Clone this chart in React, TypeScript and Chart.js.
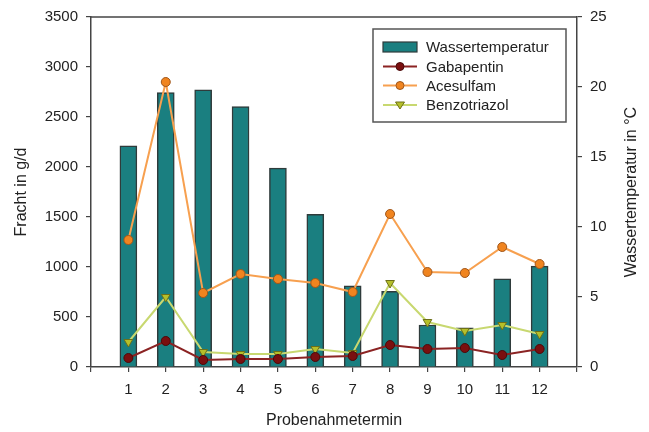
import React, { useEffect, useRef } from "react";
import { Chart, registerables } from "chart.js";

Chart.register(...registerables);

const termine = [1, 2, 3, 4, 5, 6, 7, 8, 9, 10, 11, 12];
const wassertemperatur = [15.8, 19.6, 19.8, 18.6, 14.2, 10.9, 5.8, 5.4, 3.0, 2.8, 6.3, 7.2];
const gabapentin = [90, 260, 70, 80, 80, 100, 110, 220, 180, 190, 120, 180];
const acesulfam = [1270, 2850, 740, 930, 880, 840, 750, 1530, 950, 940, 1200, 1030];
const benzotriazol = [250, 700, 150, 130, 130, 180, 140, 840, 450, 360, 420, 330];

const FONT = "'Liberation Sans', Arial, Helvetica, sans-serif";
const TEXT = "#222";
const AXIS = "#444";

const BAR_FILL = "#1a7f80";
const BAR_BORDER = "#2f3b3b";
const GABA_LINE = "#8b2323";
const GABA_PT = "#7a0f0f";
const ACE_LINE = "#f7a04f";
const ACE_PT = "#f0841f";
const BENZ_LINE = "#c8d870";
const BENZ_PT = "#b5bf2a";

const RIGHT_TITLE = "Wassertemperatur in °C";

const toPts = (arr: number[]) => arr.map((v, i) => ({ x: termine[i], y: v }));

const legendItems = [
  { label: "Wassertemperatur", kind: "bar" },
  { label: "Gabapentin", kind: "circle", line: GABA_LINE, pt: GABA_PT, border: "#4a0a0a" },
  { label: "Acesulfam", kind: "circle", line: ACE_LINE, pt: ACE_PT, border: "#a0561a" },
  { label: "Benzotriazol", kind: "tri", line: BENZ_LINE, pt: BENZ_PT, border: "#6d7018" },
];

const frameAndLegend = {
  id: "frameAndLegend",
  afterDraw(chart: any) {
    const ctx = chart.ctx;
    const a = chart.chartArea;
    ctx.save();
    // top frame line
    ctx.strokeStyle = AXIS;
    ctx.lineWidth = 1.5;
    ctx.beginPath();
    ctx.moveTo(a.left, a.top);
    ctx.lineTo(a.right, a.top);
    ctx.stroke();

    // right axis title, reading bottom-to-top
    ctx.save();
    ctx.translate(632, 192);
    ctx.rotate(-Math.PI / 2);
    ctx.font = `16px ${FONT}`;
    ctx.fillStyle = TEXT;
    ctx.textAlign = "center";
    ctx.textBaseline = "middle";
    ctx.fillText(RIGHT_TITLE, 0, 0);
    ctx.restore();

    // legend box
    const bx = 373, by = 29, bw = 193, bh = 93;
    ctx.fillStyle = "#fff";
    ctx.fillRect(bx, by, bw, bh);
    ctx.strokeStyle = "#555";
    ctx.lineWidth = 1.5;
    ctx.strokeRect(bx, by, bw, bh);

    const rows = [47, 66.5, 85.5, 105];
    ctx.font = `15px ${FONT}`;
    ctx.textBaseline = "middle";
    ctx.textAlign = "left";
    legendItems.forEach((it: any, i: number) => {
      const y = rows[i];
      const x0 = 383, x1 = 417;
      if (it.kind === "bar") {
        ctx.fillStyle = BAR_FILL;
        ctx.fillRect(x0, y - 5, x1 - x0, 10);
        ctx.strokeStyle = BAR_BORDER;
        ctx.lineWidth = 1.2;
        ctx.strokeRect(x0, y - 5, x1 - x0, 10);
      } else {
        ctx.strokeStyle = it.line;
        ctx.lineWidth = 2;
        ctx.beginPath();
        ctx.moveTo(x0, y);
        ctx.lineTo(x1, y);
        ctx.stroke();
        const cx = (x0 + x1) / 2;
        ctx.fillStyle = it.pt;
        ctx.strokeStyle = it.border;
        ctx.lineWidth = 1;
        ctx.beginPath();
        if (it.kind === "circle") {
          ctx.arc(cx, y, 4, 0, Math.PI * 2);
        } else {
          ctx.moveTo(cx - 4.5, y - 3);
          ctx.lineTo(cx + 4.5, y - 3);
          ctx.lineTo(cx, y + 4);
          ctx.closePath();
        }
        ctx.fill();
        ctx.stroke();
      }
      ctx.fillStyle = TEXT;
      ctx.fillText(it.label, 426, y + 1);
    });
    ctx.restore();
  },
};

export default function App() {
  const ref = useRef<HTMLCanvasElement | null>(null);
  useEffect(() => {
    if (!ref.current) return;
    const tickFont = { family: FONT, size: 15 };
    const titleFont = { family: FONT, size: 16 };
    const chart = new Chart(ref.current, {
      type: "bar",
      data: {
        datasets: [
          {
            type: "line",
            label: "Gabapentin",
            data: toPts(gabapentin),
            yAxisID: "y",
            borderColor: GABA_LINE,
            backgroundColor: GABA_PT,
            pointBackgroundColor: GABA_PT,
            pointBorderColor: "#4a0a0a",
            pointBorderWidth: 1,
            pointRadius: 4.5,
            borderWidth: 2,
            order: 1,
          } as any,
          {
            type: "line",
            label: "Benzotriazol",
            data: toPts(benzotriazol),
            yAxisID: "y",
            borderColor: BENZ_LINE,
            backgroundColor: BENZ_PT,
            pointBackgroundColor: BENZ_PT,
            pointBorderColor: "#6d7018",
            pointBorderWidth: 1,
            pointStyle: "triangle",
            rotation: 180,
            pointRadius: 5,
            borderWidth: 2,
            order: 2,
          } as any,
          {
            type: "line",
            label: "Acesulfam",
            data: toPts(acesulfam),
            yAxisID: "y",
            borderColor: ACE_LINE,
            backgroundColor: ACE_PT,
            pointBackgroundColor: ACE_PT,
            pointBorderColor: "#a0561a",
            pointBorderWidth: 1,
            pointRadius: 4.5,
            borderWidth: 2,
            order: 3,
          } as any,
          {
            type: "bar",
            label: "Wassertemperatur",
            data: toPts(wassertemperatur),
            yAxisID: "y1",
            backgroundColor: BAR_FILL,
            borderColor: BAR_BORDER,
            borderWidth: 1.5,
            barThickness: 17,
            order: 10,
          } as any,
        ],
      },
      options: {
        animation: false,
        responsive: true,
        maintainAspectRatio: false,
        layout: { padding: { top: 17, left: 0, right: 0, bottom: 0 } },
        plugins: {
          legend: { display: false },
          tooltip: { enabled: false },
        },
        scales: {
          x: {
            type: "linear",
            min: 0,
            max: 13,
            offset: false,
            afterFit: (s: any) => { s.height = 65; },
            ticks: {
              stepSize: 1,
              autoSkip: false,
              maxRotation: 0,
              padding: 9,
              color: TEXT,
              font: tickFont,
              callback: (v: any) => (v >= 1 && v <= 12 ? String(v) : ""),
            },
            grid: { offset: false, drawOnChartArea: false, color: AXIS, tickLength: 5, lineWidth: 1.2 },
            border: { color: AXIS, width: 1.5 },
            title: {
              display: true,
              text: "Probenahmetermin",
              color: TEXT,
              font: titleFont,
              padding: { top: 0, bottom: 2 },
            },
          },
          y: {
            type: "linear",
            position: "left",
            min: 0,
            max: 3500,
            afterFit: (s: any) => { s.width = 91; },
            ticks: { stepSize: 500, padding: 8, color: TEXT, font: tickFont, callback: (v: any) => String(v) },
            grid: { drawOnChartArea: false, color: AXIS, tickLength: 5, lineWidth: 1.2 },
            border: { color: AXIS, width: 1.5 },
            title: {
              display: true,
              text: "Fracht in g/d",
              color: TEXT,
              font: titleFont,
              padding: { top: 12, bottom: 0 },
            },
          },
          y1: {
            type: "linear",
            position: "right",
            min: 0,
            max: 25,
            afterFit: (s: any) => { s.width = 72; },
            ticks: { stepSize: 5, padding: 8, color: TEXT, font: tickFont, callback: (v: any) => String(v) },
            grid: { drawOnChartArea: false, color: AXIS, tickLength: 5, lineWidth: 1.2 },
            border: { color: AXIS, width: 1.5 },
            title: { display: false, text: RIGHT_TITLE },
          },
        },
      } as any,
      plugins: [frameAndLegend],
    });
    return () => chart.destroy();
  }, []);

  return (
    <div style={{ position: "fixed", left: 0, top: 0, width: 649, height: 432, background: "#fff" }}>
      <canvas ref={ref} />
    </div>
  );
}
